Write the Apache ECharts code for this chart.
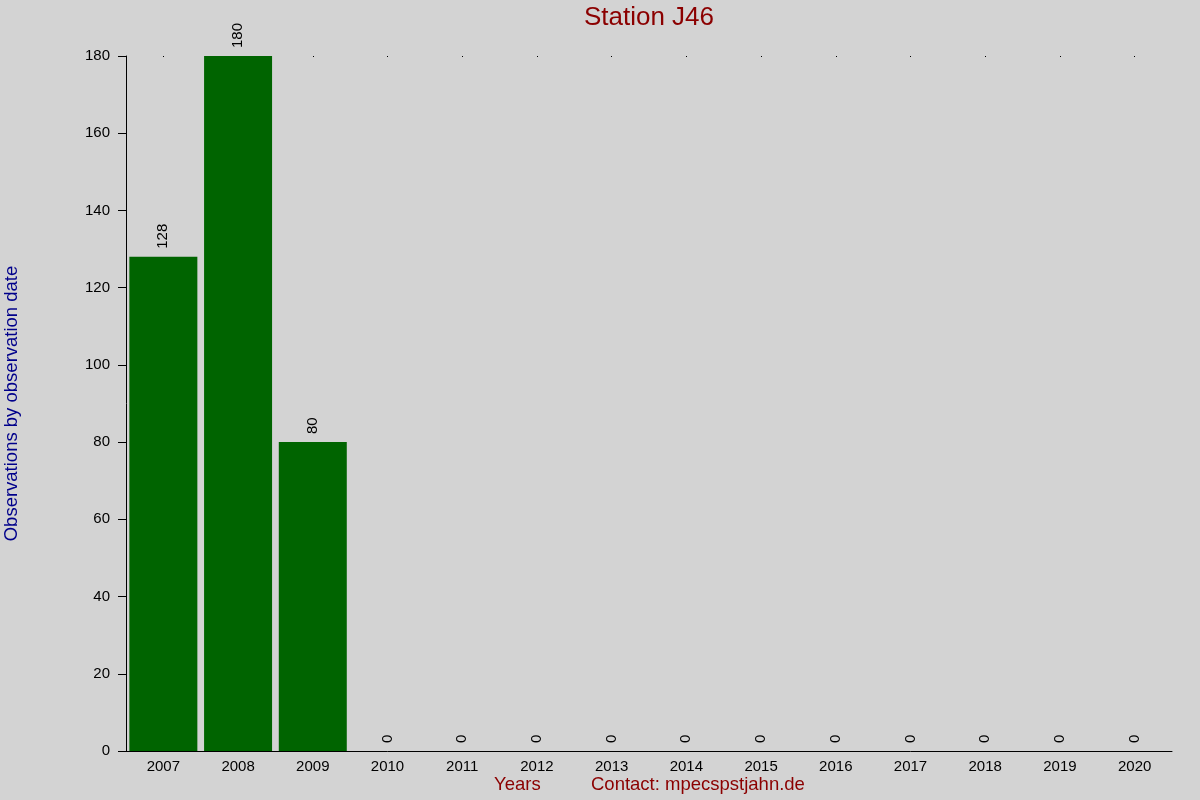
<!DOCTYPE html>
<html>
<head>
<meta charset="utf-8">
<script src="https://cdn.jsdelivr.net/npm/echarts@6/dist/echarts.min.js"></script>
<style>
  html, body { margin: 0; padding: 0; background: #d3d3d3; }
  #main { width: 1200px; height: 800px; }
</style>
</head>
<body>
<div id="main"></div>
<script>
var years = ['2007', '2008', '2009', '2010', '2011', '2012', '2013', '2014', '2015', '2016', '2017', '2018', '2019', '2020'];
var counts = [128, 180, 80, 0, 0, 0, 0, 0, 0, 0, 0, 0, 0, 0];
var yTicks = [0, 20, 40, 60, 80, 100, 120, 140, 160, 180];

var font = 'Liberation Sans, Arial, sans-serif';
var chart = echarts.init(document.getElementById('main'));

var option = {
  backgroundColor: '#d3d3d3',
  animation: false,
  grid: { left: 126, right: 28, top: 56, bottom: 49, containLabel: false, outerBoundsMode: 'none' },
  xAxis: [{
    type: 'category',
    data: years,
    axisLine: { lineStyle: { color: '#000', width: 1 } },
    axisTick: { show: false },
    axisLabel: { color: '#000', fontSize: 15, fontFamily: font, margin: 8 }
  }, {
    // tiny marks along the top edge
    type: 'category',
    data: years,
    position: 'top',
    axisLine: { show: false },
    axisTick: { show: true, inside: true, length: 1, alignWithLabel: true, lineStyle: { color: '#000' } },
    axisLabel: { show: false }
  }],
  yAxis: {
    type: 'value',
    min: yTicks[0],
    max: yTicks[yTicks.length - 1],
    interval: 20,
    name: 'Observations by observation date',
    nameLocation: 'middle',
    nameGap: 105,
    nameTextStyle: { color: '#00008b', fontSize: 18.5, fontFamily: font },
    axisLine: { show: true, lineStyle: { color: '#000', width: 1 } },
    axisTick: { show: true, length: 8, lineStyle: { color: '#000' } },
    axisLabel: { color: '#000', fontSize: 15, fontFamily: font, margin: 16 },
    splitLine: { show: false }
  },
  series: [{
    type: 'bar',
    data: counts,
    barCategoryGap: '9%',
    itemStyle: { color: '#006400' },
    label: {
      show: true,
      position: 'top',
      rotate: 90,
      align: 'left',
      verticalAlign: 'middle',
      distance: 8,
      color: '#000',
      fontSize: 15,
      fontFamily: font
    }
  }],
  graphic: [{
    type: 'text',
    x: 649,
    y: 18,
    style: { text: 'Station J46', fill: '#8b0000', font: '26px ' + font, textAlign: 'center', textVerticalAlign: 'middle' }
  }, {
    type: 'text',
    left: 494,
    top: 775,
    style: { text: 'Years', fill: '#8b0000', font: '18.5px ' + font }
  }, {
    type: 'text',
    left: 591,
    top: 775,
    style: { text: 'Contact: mpecspstjahn.de', fill: '#8b0000', font: '18.5px ' + font }
  }]
};

chart.setOption(option);
</script>
</body>
</html>
